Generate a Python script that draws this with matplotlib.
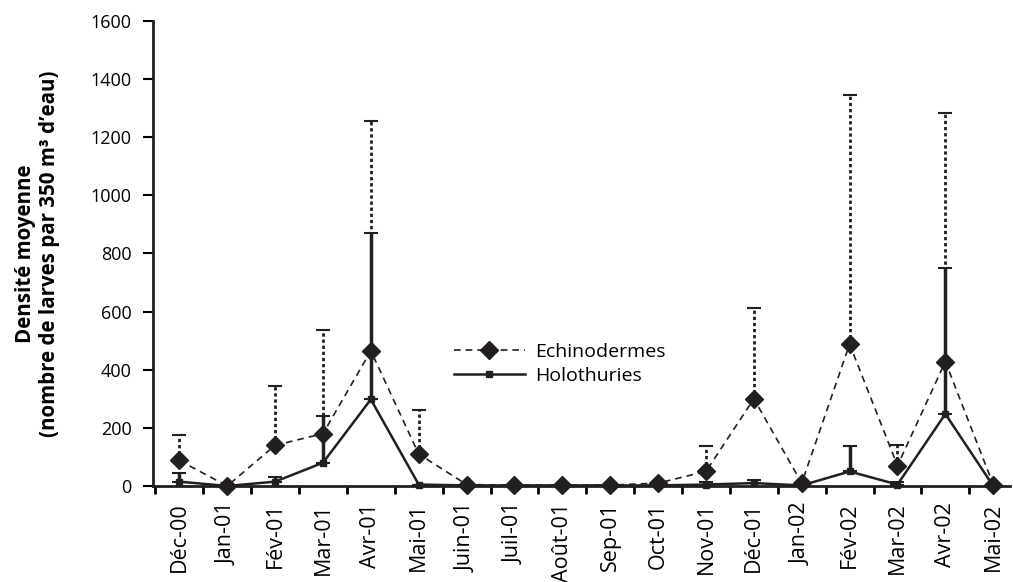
import matplotlib.pyplot as plt
import numpy as np

plt.rcParams['font.family'] = ['Open Sans', 'DejaVu Sans']

# months of sampling
mois = ['Déc-00', 'Jan-01', 'Fév-01', 'Mar-01', 'Avr-01', 'Mai-01', 'Juin-01',
        'Juil-01', 'Août-01', 'Sep-01', 'Oct-01', 'Nov-01', 'Déc-01', 'Jan-02',
        'Fév-02', 'Mar-02', 'Avr-02', 'Mai-02']

# mean densities and upper error bar tops
echino = [88, 0, 140, 180, 465, 110, 5, 3, 3, 3, 10, 50, 300, 10, 488, 70, 428, 5]
echino_haut = [175, 0, 345, 537, 1255, 262, 0, 0, 0, 0, 0, 138, 614, 0, 1345, 140, 1284, 0]
holo = [15, 0, 15, 80, 298, 5, 2, 2, 2, 2, 2, 5, 10, 2, 50, 5, 248, 0]
holo_haut = [45, 0, 32, 240, 870, 0, 0, 0, 0, 0, 0, 15, 22, 0, 137, 15, 750, 0]

x = np.arange(len(mois))
e_err = [max(h - v, 0) for v, h in zip(echino, echino_haut)]
h_err = [max(h - v, 0) for v, h in zip(holo, holo_haut)]

fig = plt.figure(figsize=(10.13, 5.82), dpi=100)
ax = fig.add_axes([153/1013, 1 - 486/582, (1010 - 153)/1013, (486 - 21)/582])

# error bars (upper only)
eb = ax.errorbar(x, echino, yerr=[np.zeros(len(x)), e_err], fmt='none',
                 ecolor='#231f20', elinewidth=2, capsize=4.7, capthick=1.5)
eb[2][0].set_linestyle((0, (1.2, 1)))
ax.errorbar(x, holo, yerr=[np.zeros(len(x)), h_err], fmt='none',
            ecolor='#231f20', elinewidth=2.5, capsize=4.7, capthick=1.5)

ax.plot(x, echino, color='#231f20', linestyle=(0, (4, 3)), linewidth=1.2,
        marker='D', markersize=8.7, label='Echinodermes', clip_on=False, zorder=5)
ax.plot(x, holo, color='#231f20', linestyle='-', linewidth=1.8,
        marker='s', markersize=5, label='Holothuries', clip_on=False, zorder=4)

ax.set_ylim(0, 1600)
ax.set_xlim(-0.55, 17.35)
ax.set_yticks(range(0, 1601, 200))
ax.set_xticks(x)
ax.set_xticklabels(mois, rotation=90, fontsize=15.5)
ax.set_xticks(np.arange(-0.5, 17.5, 1), minor=True)
ax.tick_params(axis='x', which='major', length=0, pad=12)
ax.tick_params(axis='x', which='minor', length=6, width=2, direction='out')
ax.tick_params(axis='y', length=7, width=1.5, direction='out', labelsize=13, pad=8.5)

for s in ['top', 'right']:
    ax.spines[s].set_visible(False)
for s in ['left', 'bottom']:
    ax.spines[s].set_linewidth(2)
    ax.spines[s].set_color('#231f20')

ax.set_ylabel('Densité moyenne\n(nombre de larves par 350 m³ d\u2019eau)',
              fontsize=14.8, fontweight='bold', labelpad=22, linespacing=1.15)

ax.legend(loc='center left', bbox_to_anchor=(0.351, 0.263), frameon=False,
          fontsize=14, handlelength=3.66, handletextpad=0.5, labelspacing=0.3,
          borderpad=0, borderaxespad=0)

fig.savefig('out.png', dpi=100)
